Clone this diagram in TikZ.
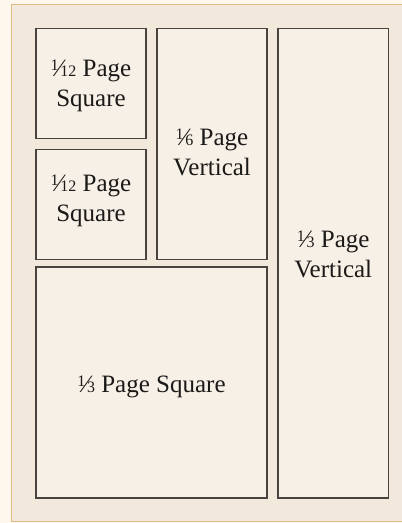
\documentclass[tikz,border=0pt]{standalone}
\usepackage{fontspec}
\setmainfont{Liberation Serif}
\usepackage{tikz}
\usetikzlibrary{positioning}
\definecolor{pagebg}{HTML}{FDF7EE}
\definecolor{panelfill}{HTML}{F2E8DC}
\definecolor{paneledge}{HTML}{DDBB84}
\definecolor{boxfill}{HTML}{F6F0E7}
\definecolor{boxedge}{HTML}{48433F}
\definecolor{inkcol}{HTML}{1C1A18}
\newcommand\pfrac[2]{\raisebox{0.5ex}{\fontsize{16}{16}\selectfont #1}\kern-0.05em\char"2044\kern-0.05em{\fontsize{16}{16}\selectfont #2}}
\tikzset{
  panel/.style={draw=paneledge, line width=1.5pt, fill=panelfill},
  adbox/.style={draw=boxedge, line width=1.5pt, fill=boxfill, rectangle, inner sep=0pt, outer sep=0pt},
  adtext/.style={inner sep=0pt, align=center, text=inkcol, font=\fontsize{25}{30}\selectfont}
}
\begin{document}
\begin{tikzpicture}[x=1pt,y=-1pt]
  \useasboundingbox (0,0) rectangle (402,523);
  \fill[pagebg] (0,0) rectangle (402,523);
  \draw[panel] (11.5,4.5) rectangle (410,521.5);
  % ad slots
  \node[adbox, minimum width=110pt, minimum height=110pt] (sqA) at (91,83.5) {};
  \node[adbox, minimum width=110pt, minimum height=110pt] (sqB) at (91,204.5) {};
  \node[adbox, minimum width=110pt, minimum height=231pt] (vertC) at (212,144) {};
  \node[adbox, minimum width=110.5pt, minimum height=469.5pt] (vertD) at (333.25,263.25) {};
  \node[adbox, minimum width=231pt, minimum height=231pt] (sqE) at (151.5,382.5) {};
  % slot labels
  \node[adtext, yshift=-2pt] (sqAtext) at (sqA) {\pfrac{1}{12} Page\\Square};
  \node[adtext, yshift=4pt] (sqBtext) at (sqB) {\pfrac{1}{12} Page\\Square};
  \node[adtext, yshift=-8pt] (vertCtext) at (vertC) {\pfrac{1}{6} Page\\Vertical};
  \node[adtext, yshift=9pt] (vertDtext) at (vertD) {\pfrac{1}{3} Page\\Vertical};
  \node[adtext, yshift=-4pt] (sqEtext) at (sqE) {\pfrac{1}{3} Page Square};
\end{tikzpicture}
\end{document}
